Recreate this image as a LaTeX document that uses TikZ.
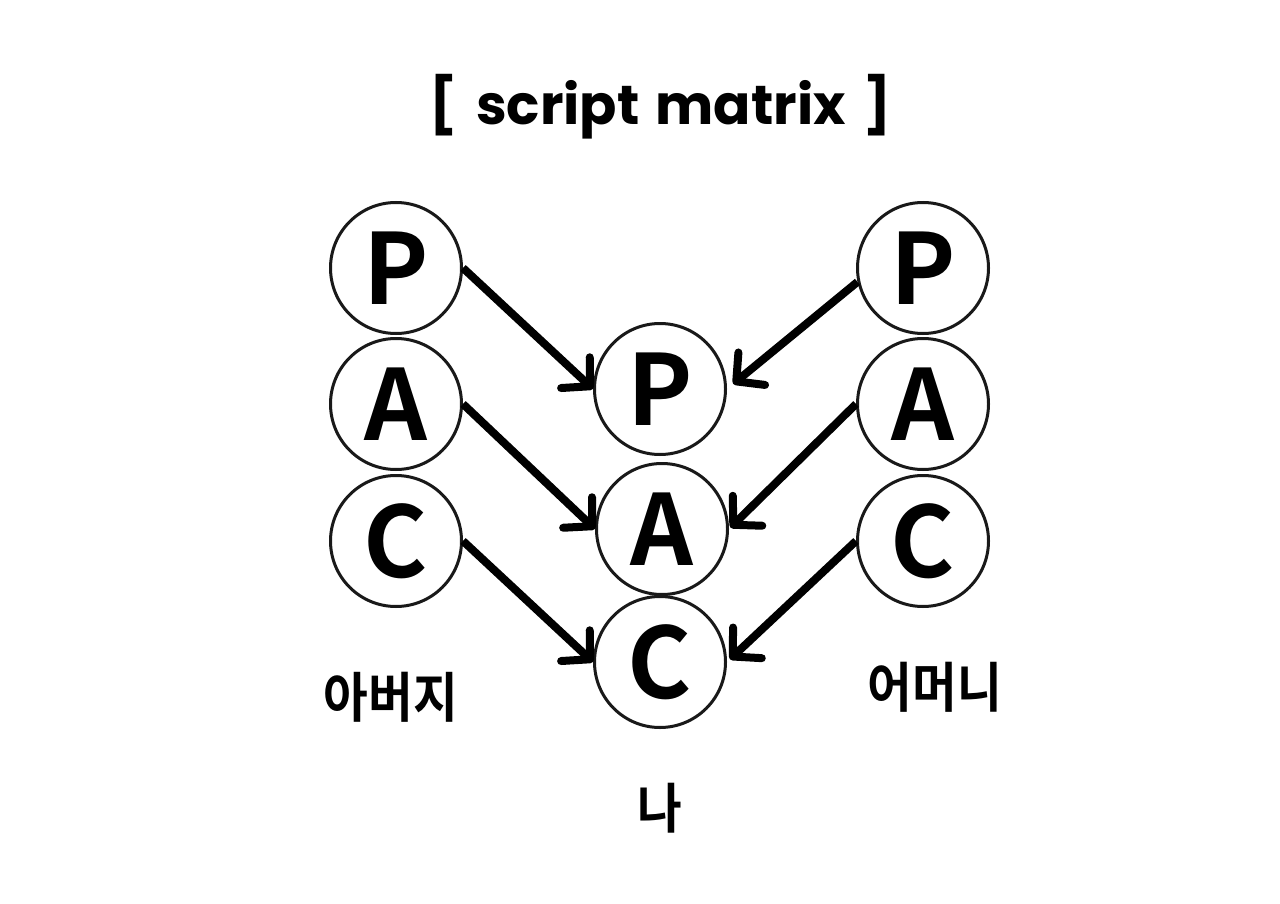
\documentclass[tikz,border=0pt]{standalone}
\usepackage{fontspec}
\usepackage{graphicx}
\usetikzlibrary{arrows.meta}
\newfontfamily\krfont{Noto Sans CJK KR}[BoldFont={* Bold}]
\newfontfamily\titlefont{Poppins}[BoldFont={* Bold}]
\begin{document}
\begin{tikzpicture}[x=0.5pt,y=-0.5pt,
  pac/.style={circle,draw=black!90,line width=1.5pt,minimum size=65.5pt,inner sep=0pt,
    font=\krfont\bfseries\fontsize{49}{50}\selectfont},
  lbl/.style={inner sep=0pt,font=\krfont\bfseries\fontsize{27}{28}\selectfont},
  arr/.style={line width=4pt,-{Straight Barb[length=10pt,width=21pt,line cap=round,line join=round]}}]
\useasboundingbox (0,0) rectangle (1280,904);
\fill[white] (0,0) rectangle (1280,904);
\node[inner sep=0pt,anchor=base,font=\titlefont\bfseries\fontsize{27.5}{30}\selectfont] (title) at (661,125) {[\hspace{0.12em} script\hspace{0.08em} matrix\hspace{0.12em} ]};
% left column (father)
\node[pac] (LP) at (396,268) {P};
\node[pac] (LA) at (396,404) {A};
\node[pac] (LC) at (396,541) {C};
% middle column (me)
\node[pac] (MP) at (660,389) {P};
\node[pac] (MA) at (662,529) {A};
\node[pac] (MC) at (660,662) {C};
% right column (mother)
\node[pac] (RP) at (923,268) {P};
\node[pac] (RA) at (923,404) {A};
\node[pac] (RC) at (923,541) {C};
% labels
\node[lbl] (father) at (391,697) {\scalebox{0.9}[1]{아버지}};
\node[lbl] (mother) at (935,687) {\scalebox{0.9}[1]{어머니}};
\node[lbl] (me) at (660,808) {\scalebox{0.9}[1]{나}};
% arrows
\draw[arr] (LP.east) -- (MP.west);
\draw[arr] (LA.east) -- (MA.west);
\draw[arr] (LC.east) -- (MC.west);
\draw[arr,shorten >=4pt] (RP.192) -- (MP.east);
\draw[arr,shorten >=1pt] (RA.west) -- (MA.east);
\draw[arr,shorten >=2pt] (RC.west) -- (MC.east);
\end{tikzpicture}
\end{document}
